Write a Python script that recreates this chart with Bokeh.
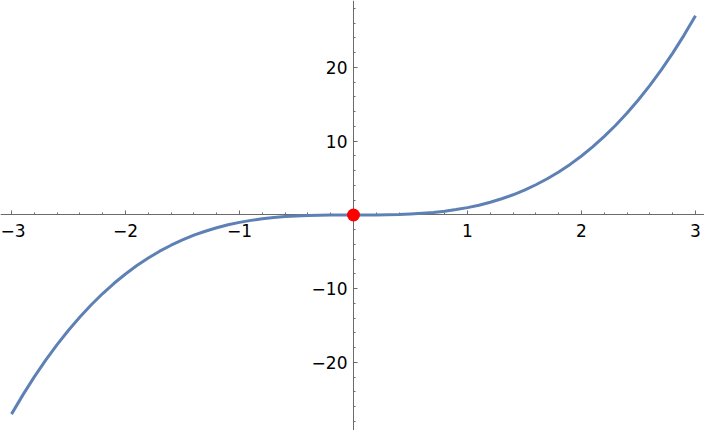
from bokeh.plotting import figure
from bokeh.models import Range1d, SingleIntervalTicker, CustomJSTickFormatter
from bokeh.embed import file_html
from bokeh.resources import INLINE

# curve values
xs = [-3.0, -2.9, -2.8, -2.7, -2.6, -2.5, -2.4, -2.3, -2.2, -2.1, -2.0,
      -1.9, -1.8, -1.7, -1.6, -1.5, -1.4, -1.3, -1.2, -1.1, -1.0,
      -0.9, -0.8, -0.7, -0.6, -0.5, -0.4, -0.3, -0.2, -0.1, 0.0,
      0.1, 0.2, 0.3, 0.4, 0.5, 0.6, 0.7, 0.8, 0.9, 1.0,
      1.1, 1.2, 1.3, 1.4, 1.5, 1.6, 1.7, 1.8, 1.9, 2.0,
      2.1, 2.2, 2.3, 2.4, 2.5, 2.6, 2.7, 2.8, 2.9, 3.0]
ys = [-27.0, -24.39, -21.95, -19.68, -17.58, -15.63, -13.82, -12.17, -10.65, -9.26, -8.0,
      -6.86, -5.83, -4.91, -4.10, -3.38, -2.74, -2.20, -1.73, -1.33, -1.0,
      -0.73, -0.51, -0.34, -0.22, -0.13, -0.06, -0.03, -0.01, 0.0, 0.0,
      0.0, 0.01, 0.03, 0.06, 0.13, 0.22, 0.34, 0.51, 0.73, 1.0,
      1.33, 1.73, 2.20, 2.74, 3.38, 4.10, 4.91, 5.83, 6.86, 8.0,
      9.26, 10.65, 12.17, 13.82, 15.63, 17.58, 19.68, 21.95, 24.39, 27.0]
point_x = [0.0]
point_y = [0.0]

p = figure(width=704, height=430, output_backend="svg", toolbar_location=None,
           x_range=Range1d(-3.0965, 3.079), y_range=Range1d(-29.22, 29.08),
           min_border=0)
p.outline_line_color = None
p.xgrid.visible = False
p.ygrid.visible = False
p.background_fill_color = "white"
p.border_fill_color = "white"

fmt = CustomJSTickFormatter(code="""
if (tick == 0) return "";
if (tick < 0) return "\\u2212" + String(-tick);
return String(tick);
""")

for ax, interval in ((p.xaxis[0], 1), (p.yaxis[0], 10)):
    ax.fixed_location = 0
    ax.ticker = SingleIntervalTicker(interval=interval, num_minor_ticks=5)
    ax.formatter = fmt
    ax.axis_line_color = "#6b6b6b"
    ax.major_tick_line_color = "#6b6b6b"
    ax.minor_tick_line_color = "#6b6b6b"
    ax.major_tick_in = 4
    ax.major_tick_out = 0
    ax.minor_tick_in = 2
    ax.minor_tick_out = 0
    ax.major_label_text_font = "DejaVu Sans"
    ax.major_label_text_font_size = "17px"
    ax.major_label_text_color = "black"

p.xaxis[0].major_label_standoff = 9
p.yaxis[0].major_label_standoff = 6

p.line(xs, ys, line_color="#5E81B5", line_width=3, line_join="round", level="overlay")
p.scatter(point_x, point_y, size=13, fill_color="#FF0000", line_color=None, level="overlay")

open("out.html", "w").write(file_html(p, INLINE))
